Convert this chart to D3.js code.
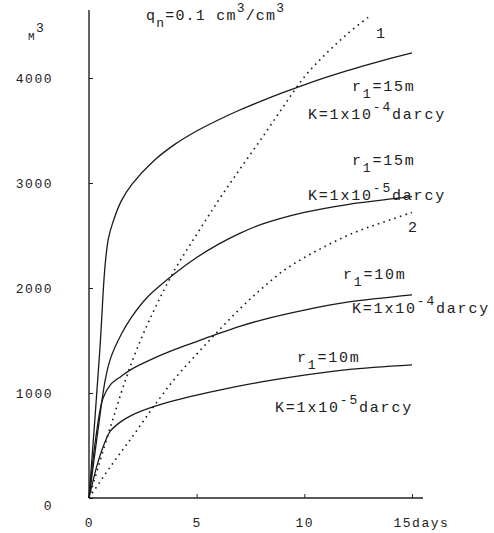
<!DOCTYPE html>
<html>
<head>
<meta charset="utf-8">
<script src="https://cdn.jsdelivr.net/npm/d3@7"></script>
<style>
  body { margin: 0; background: #fff; }
  svg text { font-family: 'Liberation Mono', 'DejaVu Sans Mono', monospace; fill: #222; }
</style>
</head>
<body>
<div class="graph"><svg></svg></div>
<script>
// days on the x axis
const days = [0, 5, 10, 15]
const yTicks = [0, 1000, 2000, 3000, 4000]

// solid curves: [day, volume m3]
const r15K4 = [[0, 0], [0.5, 1400], [0.74, 2200], [0.9, 2470], [1.1, 2620], [1.5, 2830], [2, 2990], [3, 3210], [4, 3370], [5, 3495], [6, 3600], [7, 3695], [8, 3780], [9, 3860], [10, 3935], [11, 4005], [12, 4070], [13, 4130], [14, 4187], [15, 4240]]
const r15K5 = [[0, 0], [0.4, 620], [0.75, 1120], [1, 1330], [1.5, 1560], [2, 1730], [2.7, 1910], [4, 2140], [5, 2290], [6, 2415], [7, 2520], [8, 2605], [10, 2720], [12, 2795], [15, 2870]]
const r10K4 = [[0, 0], [0.3, 550], [0.65, 950], [1, 1080], [1.5, 1160], [2, 1230], [3, 1330], [4, 1415], [5, 1490], [6, 1565], [7, 1635], [8, 1695], [10, 1790], [12, 1865], [15, 1935]]
const r10K5 = [[0, 0], [0.4, 330], [0.82, 571], [1, 640], [1.5, 730], [2, 790], [3, 870], [4, 930], [5, 980], [6, 1025], [8, 1105], [10, 1170], [12, 1222], [15, 1267]]

// dotted curves 1 and 2
const dotted1 = [[0, 0], [1, 680], [2, 1300], [3, 1780], [4, 2180], [5, 2510], [6, 2830], [7, 3130], [8, 3420], [9, 3720], [10, 4010], [11, 4230], [12, 4420], [13.1, 4600]]
const dotted2 = [[0, 0], [1, 300], [2, 580], [3, 870], [4, 1140], [5, 1370], [6, 1590], [7, 1800], [8, 1990], [9, 2160], [10, 2290], [11, 2400], [12, 2500], [13, 2580], [14, 2650], [15, 2720]]

const width = 494
const height = 533

const svg = d3.select('.graph').select('svg')
  .attr('width', width)
  .attr('height', height)

const x = d3.scaleLinear().domain([0, 15]).range([89, 412])
const y = d3.scaleLinear().domain([0, 4000]).range([498, 78])

// axes
const xAxis = d3.axisBottom(x)
  .tickValues(days)
  .tickSizeInner(-4)
  .tickSizeOuter(0)
  .tickPadding(20)
  .tickFormat(d => d === 15 ? '15days' : d)

const gx = svg.append('g')
  .attr('class', 'x axis')
  .attr('transform', 'translate(0,' + y(0) + ')')
  .call(xAxis)
gx.select('.domain').remove()
gx.selectAll('text')
  .attr('font-size', 13)
  .attr('letter-spacing', 1.5)
  .attr('fill', '#222')
gx.selectAll('.tick').filter(d => d === 15).select('text')
  .attr('text-anchor', 'start')
  .attr('dx', -19)

const yAxis = d3.axisLeft(y)
  .tickValues(yTicks)
  .tickSizeInner(-4)
  .tickSizeOuter(0)
  .tickPadding(36)
  .tickFormat(d3.format('d'))

const gy = svg.append('g')
  .attr('class', 'y axis')
  .attr('transform', 'translate(' + x(0) + ',0)')
  .call(yAxis)
gy.select('.domain').remove()
gy.selectAll('text')
  .attr('font-size', 13)
  .attr('letter-spacing', 1.5)
  .attr('fill', '#222')
gy.selectAll('.tick').filter(d => d === 0).select('text').attr('dy', '0.85em')
svg.selectAll('.tick line').attr('stroke', '#222')

// axis lines
svg.append('line')
  .attr('x1', x(0)).attr('x2', 423)
  .attr('y1', y(0)).attr('y2', y(0))
  .attr('stroke', '#222').attr('stroke-width', 1.4)
svg.append('line')
  .attr('x1', x(0)).attr('x2', x(0))
  .attr('y1', y(0)).attr('y2', 10)
  .attr('stroke', '#222').attr('stroke-width', 1.4)

// curves
const line = d3.line()
  .x(d => x(d[0]))
  .y(d => y(d[1]))
  .curve(d3.curveCatmullRom.alpha(0.5))

const solid = [r15K4, r15K5, r10K4, r10K5]
svg.selectAll('.solid')
  .data(solid)
  .enter().append('path')
  .attr('class', 'solid')
  .attr('d', line)
  .attr('fill', 'none')
  .attr('stroke', '#1a1a1a')
  .attr('stroke-width', 1.3)

svg.selectAll('.dotted')
  .data([dotted1, dotted2])
  .enter().append('path')
  .attr('class', 'dotted')
  .attr('d', line)
  .attr('fill', 'none')
  .attr('stroke', '#1a1a1a')
  .attr('stroke-width', 1.6)
  .attr('stroke-dasharray', '1.6,4.2')

/**
 * Writes a label made of parts; a part may be raised (sup) or lowered (sub).
 */
function label (px, py, parts, spacing, size) {
  const t = svg.append('text')
    .attr('x', px)
    .attr('y', py)
    .attr('font-size', size || 15)
    .attr('letter-spacing', spacing)
  parts.forEach(p => {
    const s = t.append('tspan').text(p.t)
    if (p.sup) s.attr('dy', -8).attr('font-size', 13)
    if (p.sub) s.attr('dy', 7).attr('font-size', 13)
    if (p.back) s.attr('dy', p.back)
    if (p.size) s.attr('font-size', p.size)
  })
}

const rPart = (r) => [{ t: 'r' }, { t: '1', sub: true }, { t: '=' + r + 'm', back: -7 }]
const kPart = (e) => [{ t: 'K=1x10' }, { t: '-' + e, sup: true }, { t: 'darcy', back: 8 }]

// axis titles
label(28, 40, [{ t: 'M', size: 11 }, { t: '3', sup: true }], 1.5)
label(146, 20, [{ t: 'q' }, { t: 'n', sub: true }, { t: '=0.1 cm', back: -7 }, { t: '3', sup: true }, { t: '/cm', back: 8 }, { t: '3', sup: true }], 1.2)

// curve labels
label(376, 38, [{ t: '1' }], 0)
label(408, 232, [{ t: '2' }], 0)

label(352, 91, rPart(15), 1.8)
label(308, 119, kPart(4), 1.8)
label(352, 165, rPart(15), 1.8)
label(308, 200, kPart(5), 1.8)
label(343, 279, rPart(10), 1.8)
label(352, 313, kPart(4), 1.8)
label(297, 362, rPart(10), 1.8)
label(275, 412, kPart(5), 1.8)
</script>
</body>
</html>
